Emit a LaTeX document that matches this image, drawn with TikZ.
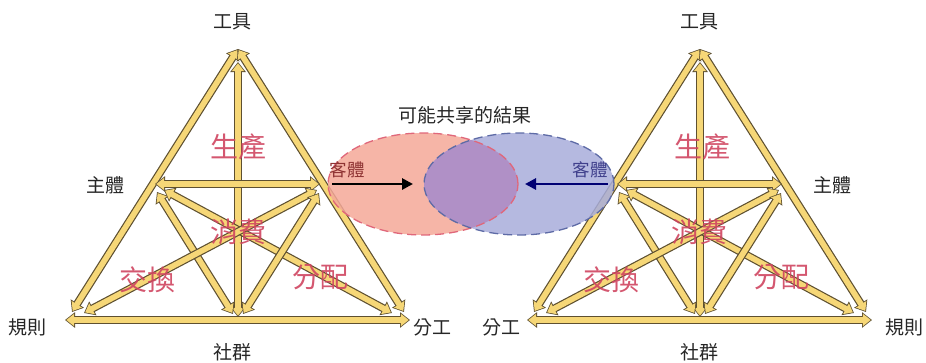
\documentclass[tikz,border=0pt]{standalone}
\usepackage{fontspec}
\newfontfamily\cjk{Noto Sans CJK TC}
\usetikzlibrary{arrows.meta}
\definecolor{beamyellow}{HTML}{F6D777}
\definecolor{beamedge}{HTML}{5E5030}
\definecolor{labred}{HTML}{CF4560}
\definecolor{objred}{HTML}{F4A898}
\definecolor{objblue}{HTML}{A8ADDB}
\definecolor{objmix}{HTML}{B08CC4}
\definecolor{edgered}{HTML}{E0677A}
\definecolor{edgeblue}{HTML}{5E6BA6}
\newcommand{\ellR}{ellipse [x radius=95pt, y radius=51pt]}

\begin{document}
\begin{tikzpicture}[x=1pt, y=-1pt,
  every node/.style={font=\cjk\fontsize{19}{19}\selectfont, inner sep=0pt, text=black!85},
  beamout/.style={line width=8pt, draw=beamedge,
    {Triangle[length=10pt,width=15pt]}-{Triangle[length=10pt,width=15pt]}},
  beamin/.style={line width=5.6pt, draw=beamyellow, shorten <=1.3pt, shorten >=1.3pt,
    {Triangle[length=7.8pt,width=11.8pt]}-{Triangle[length=7.8pt,width=11.8pt]}},
  part/.style={font=\cjk\fontsize{28}{28}\selectfont, text=labred, text opacity=0.9},
  obj/.style={font=\cjk\fontsize{17.5}{17.5}\selectfont}]
\useasboundingbox (0,0) rectangle (926,362);

\foreach \t/\dx in {l/0, r/462}{
  \coordinate (\t top) at (238+\dx,49);
  \coordinate (\t bl) at (72+\dx,312);
  \coordinate (\t br) at (404+\dx,312);
  \coordinate (\t baseL) at (65+\dx,320);
  \coordinate (\t baseR) at (410+\dx,320);
  \coordinate (\t vtop) at (238+\dx,62);
  \coordinate (\t vbot) at (238+\dx,317);
  \coordinate (\t L) at (155+\dx,184);
  \coordinate (\t R) at (320+\dx,184);
  \coordinate (\t L2) at (157+\dx,192);
  \coordinate (\t bm1) at (233+\dx,314);
  \coordinate (\t L3) at (164+\dx,190);
  \coordinate (\t br2) at (392+\dx,313);
  \coordinate (\t R2) at (317+\dx,190);
  \coordinate (\t bl2) at (84+\dx,313);
  \coordinate (\t R3) at (319+\dx,193);
  \coordinate (\t bm2) at (243+\dx,314);
}

\foreach \t in {l,r}{
  \foreach \a/\b in {top/bl, top/br, baseL/baseR, vtop/vbot, L/R, L2/bm1, L3/br2, R2/bl2, R3/bm2}{
    \draw[beamout] (\t\a) -- (\t\b);
    \draw[beamin] (\t\a) -- (\t\b);
  }
}

\node (ltool) at (232,22) {工具};
\node (lsubj) at (105,185) {主體};
\node (lrule) at (28,327) {規則};
\node (ldiv) at (432,327) {分工};
\node (lcomm) at (232,352) {社群};
\node[part] (lprod) at (238,147) {生產};
\node[part] (lcons) at (238,232) {消費};
\node[part] (lexch) at (147,280) {交換};
\node[part] (ldist) at (320,277) {分配};

\node (rtool) at (699,22) {工具};
\node (rsubj) at (832,185) {主體};
\node (rdiv) at (501,327) {分工};
\node (rrule) at (904,327) {規則};
\node (rcomm) at (699,352) {社群};
\node[part] (rprod) at (702,147) {生產};
\node[part] (rcons) at (699,232) {消費};
\node[part] (rexch) at (611,280) {交換};
\node[part] (rdist) at (781,277) {分配};

\fill[objred, fill opacity=0.85] (423,184) \ellR;
\fill[objblue, fill opacity=0.85] (519,184) \ellR;
\begin{scope}
  \clip (423,184) \ellR;
  \fill[objmix, fill opacity=0.85] (519,184) \ellR;
\end{scope}
\draw[edgered, line width=1.3pt, dash pattern=on 9pt off 5pt] (423,184) \ellR;
\draw[edgeblue, line width=1.3pt, dash pattern=on 9pt off 5pt] (519,184) \ellR;

\node (shared) at (465,115) {可能共享的結果};
\node[obj, text=red!45!black!80] (lobj) at (347,170) {客體};
\node[obj, text=blue!40!black!75] (robj) at (590,170) {客體};
\coordinate (lobjs) at (332,184);
\coordinate (lobje) at (413,184);
\coordinate (robjs) at (608,184);
\coordinate (robje) at (525,184);

\draw[line width=2.8pt, black, -{Triangle[length=11pt,width=11pt]}] (lobjs) -- (lobje);
\draw[line width=2.8pt, blue!45!black, -{Triangle[length=11pt,width=11pt]}] (robjs) -- (robje);
\end{tikzpicture}
\end{document}
